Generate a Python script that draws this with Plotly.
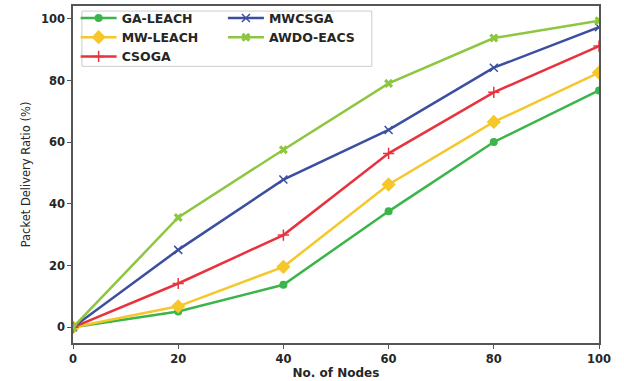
import plotly.graph_objects as go

nodes = [0, 20, 40, 60, 80, 100]
ga_leach = [0, 5.1, 13.8, 37.6, 60.1, 76.8]
mw_leach = [0, 6.8, 19.6, 46.3, 66.6, 82.6]
csoga = [0, 14.2, 29.9, 56.4, 76.2, 91.2]
mwcsga = [0, 25.1, 47.9, 64.0, 84.2, 97.3]
awdo_eacs = [0, 35.6, 57.6, 79.1, 93.8, 99.4]

x_ticks = [0, 20, 40, 60, 80, 100]
y_ticks = [0, 20, 40, 60, 80, 100]

FONT = "DejaVu Sans"
TXT = "#262626"
SPINE = "#555555"

series = [
    ("GA-LEACH", ga_leach, "#3bb54a", "circle", 8, "legend"),
    ("MW-LEACH", mw_leach, "#f5c72a", "diamond", 11, "legend"),
    ("CSOGA", csoga, "#e8333f", "cross-thin", 8, "legend"),
    ("MWCSGA", mwcsga, "#3b4ea0", "x-thin", 8, "legend2"),
    ("AWDO-EACS", awdo_eacs, "#8dc63f", "x", 8, "legend2"),
]

fig = go.Figure()
for name, ys, col, sym, size, lg in series:
    fig.add_trace(go.Scatter(
        x=nodes, y=ys, name=name, mode="lines+markers",
        line=dict(color=col, width=2.5),
        marker=dict(symbol=sym, size=size, color=col,
                    line=dict(color=col, width=1.5 if "thin" in sym else 0)),
        legend=lg,
    ))

leg_common = dict(
    font=dict(family=FONT, size=12.5, color=TXT, weight="bold"),
    bgcolor="rgba(0,0,0,0)", borderwidth=0,
    xanchor="left", yanchor="top", tracegroupgap=0, itemwidth=36,
)

fig.update_layout(
    width=624, height=381,
    margin=dict(l=73, r=25, t=3, b=38),
    paper_bgcolor="white", plot_bgcolor="white",
    font=dict(family=FONT, color=TXT),
    legend=dict(x=0.005, y=1.008, **leg_common),
    legend2=dict(x=0.285, y=1.008, **leg_common),
    xaxis=dict(
        range=[0, 100], tickvals=x_ticks,
        ticks="outside", ticklen=4, tickwidth=1.3, tickcolor=SPINE,
        showline=True, linecolor=SPINE, linewidth=1.5, mirror=True,
        showgrid=False, zeroline=False,
        tickfont=dict(family=FONT, size=11.5, color=TXT, weight="bold"),
        title=dict(text="No. of Nodes", standoff=4,
                   font=dict(family=FONT, size=12, color=TXT, weight="bold")),
    ),
    yaxis=dict(
        range=[-5.1, 104.2], tickvals=y_ticks,
        ticks="outside", ticklen=4, tickwidth=1.3, tickcolor=SPINE,
        showline=True, linecolor=SPINE, linewidth=1.5, mirror=True,
        showgrid=False, zeroline=False,
        tickfont=dict(family=FONT, size=11.5, color=TXT, weight="bold"),
        title=dict(text="Packet Delivery Ratio (%)", standoff=8,
                   font=dict(family=FONT, size=11.5, color=TXT)),
    ),
    shapes=[dict(
        type="rect", xref="paper", yref="paper",
        x0=0.017, x1=0.568, y0=0.821, y1=0.985,
        line=dict(color="#cccccc", width=1),
        fillcolor="rgba(255,255,255,0.8)", layer="above",
    )],
)

fig.write_html("out.html", config={"displayModeBar": False},
               post_script="document.body.style.margin='0';")
